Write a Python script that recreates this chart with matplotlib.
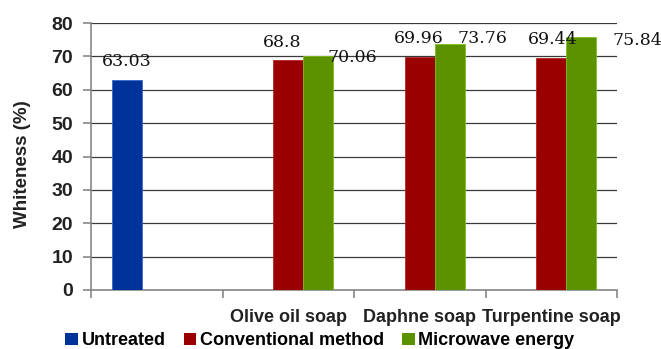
import numpy as np
import matplotlib
matplotlib.use("Agg")
import matplotlib.pyplot as plt
from matplotlib.patches import Patch

categories = ["", "Olive oil soap", "Daphne soap", "Turpentine soap"]
series_names = ["Untreated", "Conventional method", "Microwave energy"]
untreated = [63.03, np.nan, np.nan, np.nan]
conventional = [np.nan, 68.8, 69.96, 69.44]
microwave = [np.nan, 70.06, 73.76, 75.84]
yticks = [0, 10, 20, 30, 40, 50, 60, 70, 80]

colors = ["#00339A", "#9A0000", "#5C9100"]
edges = ["#3366CC", "#B22222", "#7FBF1F"]

# label offsets in pixels (dx, dy) for each (series, category) label
label_offsets = {
    (0, 0): (0, 18),
    (1, 1): (-6, 18), (2, 1): (34, -1),
    (1, 2): (-1, 18), (2, 2): (33, 5),
    (1, 3): (1, 19), (2, 3): (56, -4),
}

fig = plt.figure(figsize=(6.61, 3.49), dpi=100)
ax = fig.add_axes([91/661, 1-290/349, (617-91)/661, (290-23)/349])

x = np.arange(len(categories))
w = 0.229
data = [untreated, conventional, microwave]
for i, vals in enumerate(data):
    vals = np.array(vals, dtype=float)
    xs = x + (i - 1) * w
    ax.bar(xs, vals, width=w, color=colors[i], edgecolor=edges[i], linewidth=0.6, zorder=3)
    for j, v in enumerate(vals):
        if np.isnan(v):
            continue
        dx, dy = label_offsets[(i, j)]
        ax.annotate(f"{v:.2f}".rstrip("0").rstrip(".") if v != 70.06 else "70.06", (xs[j], v),
                    xytext=(dx * 0.72, dy * 0.72), textcoords="offset points",
                    ha="center", va="center", fontsize=12.5, family="DejaVu Serif",
                    color="#111111", zorder=5)

ax.set_xlim(-0.5, 3.5)
ax.set_ylim(0, 80)
ax.set_yticks(yticks)
ax.yaxis.grid(True, color="#3a3a3a", linewidth=0.9, zorder=1)
ax.set_axisbelow(True)
for s in ["right", "top"]:
    ax.spines[s].set_visible(False)
for s in ["left", "bottom"]:
    ax.spines[s].set_color("#888888")
    ax.spines[s].set_linewidth(1.2)

ax.set_xticks(x)
ax.set_xticklabels(categories, fontsize=13, fontweight="bold", family="Liberation Sans", color="#222222")
ax.set_xticks(np.arange(-0.5, 4.0, 1.0), minor=True)
ax.tick_params(axis="x", which="major", length=0, pad=14)
ax.tick_params(axis="x", which="minor", length=6, color="#888888", width=1.2)
ax.tick_params(axis="y", length=6, color="#888888", width=1.2, pad=7)
for lab in ax.get_yticklabels():
    lab.set_fontsize(14)
    lab.set_fontweight("bold")
    lab.set_family("Liberation Sans")
    lab.set_color("#222222")

ax.set_ylabel("Whiteness (%)", fontsize=13.5, fontweight="bold", family="Liberation Sans", color="#222222")
ax.yaxis.set_label_coords(-0.114, 0.47)

handles = [Patch(facecolor=c) for c in colors]
fig.legend(handles, series_names, loc="lower left", bbox_to_anchor=(51/661, -0.042),
           ncol=3, frameon=False, handlelength=0.7, handleheight=0.7,
           handletextpad=0.2, columnspacing=1.0, borderpad=0.3,
           prop={"family": "Liberation Sans", "weight": "bold", "size": 13})

fig.savefig("out.png", dpi=100)
